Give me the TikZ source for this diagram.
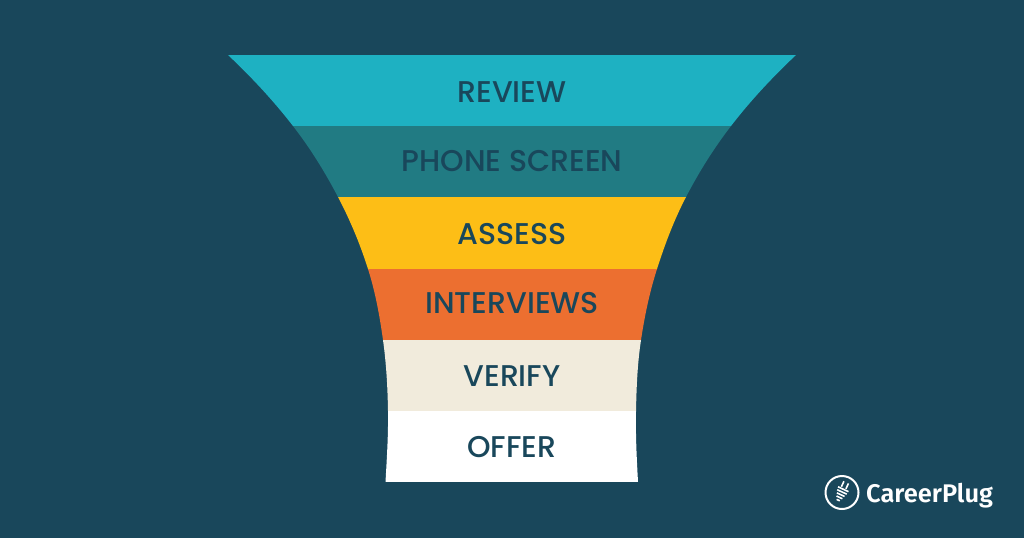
\documentclass[tikz,border=0pt]{standalone}
\usepackage{fontspec}
\setmainfont{Poppins Medium}
\newfontfamily\logofont{Fira Sans SemiBold}
\definecolor{bgc}{HTML}{19475B}
\definecolor{bandA}{HTML}{1EB1C2}
\definecolor{bandB}{HTML}{217B83}
\definecolor{bandC}{HTML}{FDBE16}
\definecolor{bandD}{HTML}{EC6F30}
\definecolor{bandE}{HTML}{F1EBDC}
\tikzset{
 lbl/.style={text=bgc,font=\fontsize{30}{30}\selectfont,inner sep=0pt,anchor=base},
 iconline/.style={white,line width=1.6pt}
}
\begin{document}
\begin{tikzpicture}[x=1pt,y=-1pt]
\useasboundingbox (0,0) rectangle (1024,538);
\fill[bgc] (0,0) rectangle (1024,538);
\begin{scope}
\clip (228,55)
 .. controls (253.1,78.67) and (274.7,102.33) .. (293,126)
 .. controls (311.3,149.67) and (325.6,173.33) .. (338,197)
 .. controls (350.6,221) and (360.4,245) .. (368,269)
 .. controls (375.5,292.67) and (379.7,316.33) .. (383,340)
 .. controls (386.3,363.67) and (387.6,387.33) .. (388,411)
 .. controls (388.4,434.67) and (386.8,458.33) .. (385.5,482)
 -- (638,482)
 .. controls (636.7,458.33) and (635.5,434.67) .. (636,411)
 .. controls (636.5,387.33) and (637.4,363.67) .. (641,340)
 .. controls (644.6,316.33) and (649.4,292.67) .. (657,269)
 .. controls (664.7,245) and (673.5,221) .. (686,197)
 .. controls (698.3,173.33) and (712.8,149.67) .. (731,126)
 .. controls (749.2,102.33) and (770.9,78.67) .. (796,55)
 -- cycle;
\fill[bandA] (200,55) rectangle (820,126.3);
\fill[bandB] (200,126) rectangle (820,197.3);
\fill[bandC] (200,197) rectangle (820,269.3);
\fill[bandD] (200,269) rectangle (820,340.3);
\fill[bandE] (200,340) rectangle (820,411.3);
\fill[white] (200,411) rectangle (820,482);
\end{scope}
\node[lbl] (review) at (512,102) {REVIEW};
\node[lbl] (phone) at (512,171) {PHONE SCREEN};
\node[lbl] (assess) at (512,244) {ASSESS};
\node[lbl] (interviews) at (512,313) {INTERVIEWS};
\node[lbl] (verify) at (512,386) {VERIFY};
\node[lbl] (offer) at (512,457) {OFFER};
\draw[white,line width=2pt] (842,492.5) circle (16.5);
\begin{scope}[shift={(842,492.5)},rotate=-25]
 \draw[iconline] (-3,-11) -- (-3,-5);
 \draw[iconline] (2,-11) -- (2,-5);
 \draw[iconline] (-6,-3.5) -- (5.5,-3.5);
 \draw[iconline] (-5.5,-0.5) -- (5,-0.5);
 \draw[iconline] (-4.5,2.5) -- (4,2.5);
 \draw[iconline] (-3.5,5.5) -- (3,5.5);
 \draw[iconline] (-2,8.5) -- (1.5,8.5);
\end{scope}
\node[anchor=base west,inner sep=0pt,text=white,font=\logofont\fontsize{25.5}{25.5}\selectfont] (logo) at (866,502) {CareerPlug};
\end{tikzpicture}
\end{document}
